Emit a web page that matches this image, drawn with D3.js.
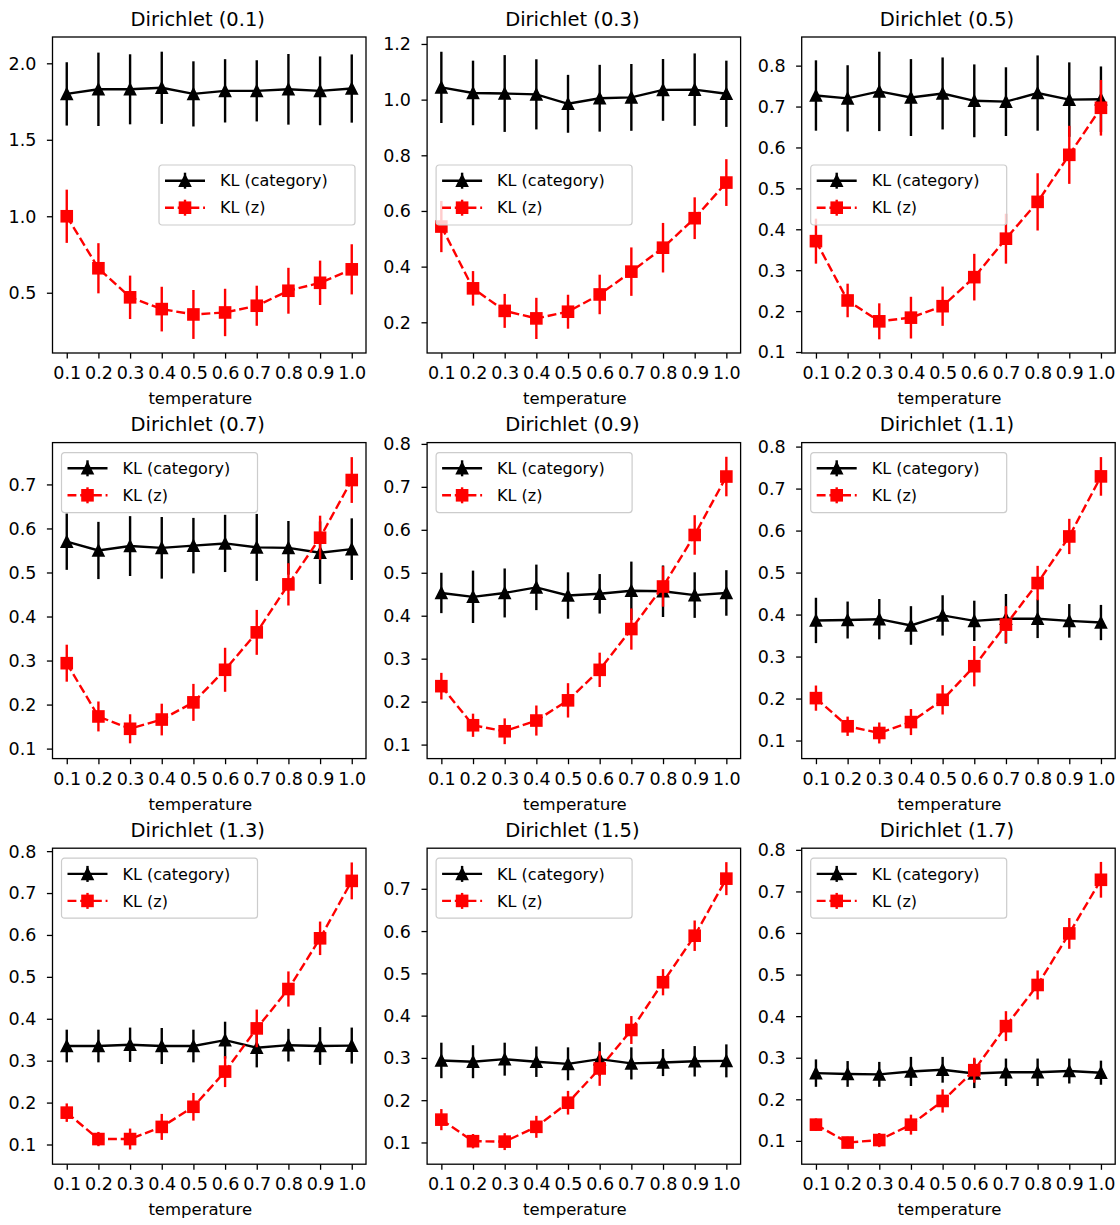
<!DOCTYPE html>
<html>
<head>
<meta charset="utf-8">
<script src="https://cdn.jsdelivr.net/npm/d3@7"></script>
<style>
    body { margin: 0; background: #fff; }
    svg text { font-family: "DejaVu Sans", sans-serif; fill: #000; }
</style>
</head>
<body>
<div id="chart"></div>
<script>
// x values shared by every panel
const temperatures = [0.1, 0.2, 0.3, 0.4, 0.5, 0.6, 0.7, 0.8, 0.9, 1.0];
// one panel per Dirichlet concentration
const alphas = ["0.1", "0.3", "0.5", "0.7", "0.9", "1.1", "1.3", "1.5", "1.7"];

const klCategory = [
    [1.80, 1.83, 1.83, 1.84, 1.80, 1.82, 1.82, 1.83, 1.82, 1.835],
    [1.044, 1.024, 1.022, 1.019, 0.985, 1.005, 1.008, 1.035, 1.036, 1.021],
    [0.727, 0.720, 0.737, 0.722, 0.732, 0.714, 0.712, 0.733, 0.717, 0.718],
    [0.570, 0.550, 0.560, 0.556, 0.561, 0.566, 0.557, 0.556, 0.545, 0.553],
    [0.453, 0.444, 0.453, 0.466, 0.447, 0.451, 0.458, 0.457, 0.448, 0.453],
    [0.386, 0.387, 0.389, 0.374, 0.398, 0.385, 0.390, 0.390, 0.385, 0.381],
    [0.335, 0.335, 0.338, 0.335, 0.335, 0.349, 0.331, 0.337, 0.335, 0.336],
    [0.294, 0.291, 0.297, 0.291, 0.286, 0.297, 0.287, 0.289, 0.292, 0.293],
    [0.263, 0.261, 0.260, 0.267, 0.271, 0.262, 0.265, 0.265, 0.268, 0.264]
];
const klCategoryErr = [
    [0.207, 0.240, 0.229, 0.236, 0.213, 0.207, 0.200, 0.231, 0.225, 0.223],
    [0.128, 0.116, 0.138, 0.126, 0.104, 0.120, 0.120, 0.111, 0.130, 0.119],
    [0.086, 0.081, 0.097, 0.094, 0.088, 0.089, 0.084, 0.092, 0.091, 0.080],
    [0.064, 0.065, 0.068, 0.070, 0.063, 0.065, 0.076, 0.061, 0.071, 0.070],
    [0.047, 0.061, 0.057, 0.053, 0.054, 0.046, 0.068, 0.060, 0.053, 0.053],
    [0.054, 0.044, 0.048, 0.046, 0.048, 0.048, 0.059, 0.046, 0.040, 0.042],
    [0.039, 0.039, 0.041, 0.043, 0.039, 0.044, 0.047, 0.039, 0.045, 0.043],
    [0.042, 0.039, 0.039, 0.036, 0.039, 0.040, 0.038, 0.032, 0.036, 0.039],
    [0.033, 0.031, 0.030, 0.035, 0.031, 0.035, 0.033, 0.033, 0.030, 0.029]
];
const klZ = [
    [1.000, 0.660, 0.470, 0.393, 0.358, 0.371, 0.415, 0.513, 0.565, 0.653],
    [0.544, 0.322, 0.241, 0.214, 0.238, 0.300, 0.382, 0.468, 0.574, 0.702],
    [0.371, 0.226, 0.175, 0.184, 0.212, 0.283, 0.377, 0.467, 0.582, 0.697],
    [0.294, 0.173, 0.145, 0.166, 0.205, 0.279, 0.364, 0.473, 0.579, 0.710],
    [0.236, 0.145, 0.131, 0.156, 0.203, 0.274, 0.369, 0.468, 0.588, 0.724],
    [0.201, 0.134, 0.118, 0.144, 0.197, 0.277, 0.376, 0.475, 0.586, 0.729],
    [0.176, 0.113, 0.113, 0.142, 0.190, 0.274, 0.377, 0.471, 0.592, 0.729],
    [0.154, 0.103, 0.102, 0.137, 0.194, 0.275, 0.366, 0.479, 0.589, 0.724],
    [0.139, 0.096, 0.102, 0.139, 0.196, 0.270, 0.376, 0.475, 0.599, 0.728]
];
const klZErr = [
    [0.174, 0.164, 0.142, 0.146, 0.160, 0.155, 0.131, 0.150, 0.145, 0.164],
    [0.092, 0.062, 0.061, 0.074, 0.061, 0.071, 0.087, 0.089, 0.075, 0.084],
    [0.055, 0.041, 0.044, 0.051, 0.048, 0.057, 0.061, 0.070, 0.071, 0.068],
    [0.042, 0.034, 0.033, 0.036, 0.042, 0.050, 0.051, 0.048, 0.050, 0.052],
    [0.031, 0.027, 0.030, 0.035, 0.040, 0.040, 0.048, 0.047, 0.046, 0.046],
    [0.030, 0.023, 0.025, 0.031, 0.035, 0.048, 0.044, 0.041, 0.042, 0.046],
    [0.022, 0.017, 0.025, 0.031, 0.033, 0.037, 0.045, 0.042, 0.040, 0.044],
    [0.025, 0.017, 0.020, 0.026, 0.028, 0.041, 0.033, 0.031, 0.036, 0.039],
    [0.015, 0.014, 0.017, 0.024, 0.028, 0.030, 0.036, 0.035, 0.037, 0.043]
];

// axis limits and tick values
const xLimits = [0.055, 1.045];
const yLimits = [
    [0.106, 2.172], [0.0897, 1.225], [0.0976, 0.870],
    [0.0773, 0.795], [0.0674, 0.803], [0.057, 0.8095],
    [0.053, 0.807], [0.0486, 0.796], [0.0439, 0.804]
];
const yTicks = [
    [0.5, 1.0, 1.5, 2.0],
    [0.2, 0.4, 0.6, 0.8, 1.0, 1.2],
    [0.1, 0.2, 0.3, 0.4, 0.5, 0.6, 0.7, 0.8],
    [0.1, 0.2, 0.3, 0.4, 0.5, 0.6, 0.7],
    [0.1, 0.2, 0.3, 0.4, 0.5, 0.6, 0.7, 0.8],
    [0.1, 0.2, 0.3, 0.4, 0.5, 0.6, 0.7, 0.8],
    [0.1, 0.2, 0.3, 0.4, 0.5, 0.6, 0.7, 0.8],
    [0.1, 0.2, 0.3, 0.4, 0.5, 0.6, 0.7],
    [0.1, 0.2, 0.3, 0.4, 0.5, 0.6, 0.7, 0.8]
];
const legendPlaces = ["right", "left", "left", "upper left", "upper left",
    "upper left", "upper left", "upper left", "upper left"];
const seriesNames = ["KL (category)", "KL (z)"];

let W = 1120, H = 1225;
let panelW = 313.5, panelH = 316;
let lw = 2.4, ms = 11;

let svg = d3.select("#chart").append("svg")
    .attr("width", W)
    .attr("height", H);
svg.append("rect").attr("width", W).attr("height", H).attr("fill", "#fff");

// draws one marker (triangle or square) centred at 0,0
function marker(sel, shape, color) {
    if (shape == "triangle") {
        sel.append("path")
            .attr("d", `M0,${-ms / 2}L${ms / 2},${ms / 2}L${-ms / 2},${ms / 2}Z`)
            .attr("fill", color).attr("stroke", color).attr("stroke-width", 1.6);
    } else {
        sel.append("rect")
            .attr("x", -ms / 2).attr("y", -ms / 2)
            .attr("width", ms).attr("height", ms)
            .attr("fill", color).attr("stroke", color).attr("stroke-width", 1.6);
    }
}

function drawSeries(g, x, y, vals, errs, color, shape, dash) {
    let pts = temperatures.map((t, i) => ({t: t, v: vals[i], e: errs[i]}));

    // error bars, no caps
    g.append("g").selectAll("line")
        .data(pts)
        .enter().append("line")
        .attr("x1", d => x(d.t)).attr("x2", d => x(d.t))
        .attr("y1", d => y(d.v - d.e)).attr("y2", d => y(d.v + d.e))
        .attr("stroke", color).attr("stroke-width", lw);

    let line = d3.line().x(d => x(d.t)).y(d => y(d.v));
    g.append("path")
        .datum(pts)
        .attr("d", line)
        .attr("fill", "none")
        .attr("stroke", color)
        .attr("stroke-width", lw)
        .attr("stroke-dasharray", dash);

    g.append("g").selectAll("g")
        .data(pts)
        .enter().append("g")
        .attr("transform", d => `translate(${x(d.t)},${y(d.v)})`)
        .each(function() { marker(d3.select(this), shape, color); });
}

function drawLegend(g, place) {
    let bw = 196, bh = 60;
    let bx = 9, by = panelH / 2 - bh / 2;
    if (place == "right") bx = panelW - 11 - bw;
    if (place == "upper left") by = 10;

    let lg = g.append("g").attr("transform", `translate(${bx},${by})`);
    lg.append("rect")
        .attr("width", bw).attr("height", bh)
        .attr("rx", 3)
        .attr("fill", "#fff").attr("fill-opacity", 0.8)
        .attr("stroke", "#cccccc").attr("stroke-width", 1.2);

    let entries = [
        {name: seriesNames[0], color: "#000", shape: "triangle", dash: null, cy: 15.7},
        {name: seriesNames[1], color: "#ff0000", shape: "square", dash: "8.9,3.8", cy: 42.7}
    ];
    entries.forEach(e => {
        lg.append("line")
            .attr("x1", 6).attr("x2", 46).attr("y1", e.cy).attr("y2", e.cy)
            .attr("stroke", e.color).attr("stroke-width", lw)
            .attr("stroke-dasharray", e.dash);
        lg.append("line")
            .attr("x1", 26).attr("x2", 26).attr("y1", e.cy - 8).attr("y2", e.cy + 8)
            .attr("stroke", e.color).attr("stroke-width", lw);
        marker(lg.append("g").attr("transform", `translate(26,${e.cy})`), e.shape, e.color);
        lg.append("text")
            .attr("x", 61).attr("y", e.cy + 5.7)
            .attr("font-size", 16)
            .text(e.name);
    });
}

function drawPanel(i) {
    let col = i % 3, row = Math.floor(i / 3);
    let left = 52.5 + col * 374.6, top = 37 + row * 405.6;
    let g = svg.append("g").attr("transform", `translate(${left},${top})`);

    let x = d3.scaleLinear().domain(xLimits).range([0, panelW]);
    let y = d3.scaleLinear().domain(yLimits[i]).range([panelH, 0]);

    let xAxis = g.append("g")
        .attr("transform", `translate(0,${panelH})`)
        .call(d3.axisBottom(x).tickValues(temperatures)
            .tickFormat(d3.format(".1f")).tickSize(5.6).tickPadding(8));
    let yAxis = g.append("g")
        .call(d3.axisLeft(y).tickValues(yTicks[i])
            .tickFormat(d3.format(".1f")).tickSize(5.6).tickPadding(10.5));
    [xAxis, yAxis].forEach(a => {
        a.select(".domain").remove();
        a.selectAll(".tick line").attr("stroke", "#000").attr("stroke-width", 1.3);
        a.selectAll(".tick text")
            .attr("font-family", "DejaVu Sans")
            .attr("font-size", 17.5)
            .attr("fill", "#000");
    });
    yAxis.selectAll(".tick text").attr("dy", "0.34em");

    drawSeries(g, x, y, klCategory[i], klCategoryErr[i], "#000", "triangle", null);
    drawSeries(g, x, y, klZ[i], klZErr[i], "#ff0000", "square", "8.9,3.8");

    // axes frame
    g.append("rect")
        .attr("width", panelW).attr("height", panelH)
        .attr("fill", "none").attr("stroke", "#000").attr("stroke-width", 1.3);

    drawLegend(g, legendPlaces[i]);

    g.append("text")
        .attr("x", panelW / 2 - 11.5).attr("y", -11.3)
        .attr("text-anchor", "middle")
        .attr("font-size", 19.5)
        .text("Dirichlet (" + alphas[i] + ")");
    g.append("text")
        .attr("x", panelW / 2 - 9).attr("y", panelH + 51)
        .attr("text-anchor", "middle")
        .attr("font-size", 16.5)
        .text("temperature");
}

for (let i = 0; i < alphas.length; i++) {
    drawPanel(i);
}
</script>
</body>
</html>
